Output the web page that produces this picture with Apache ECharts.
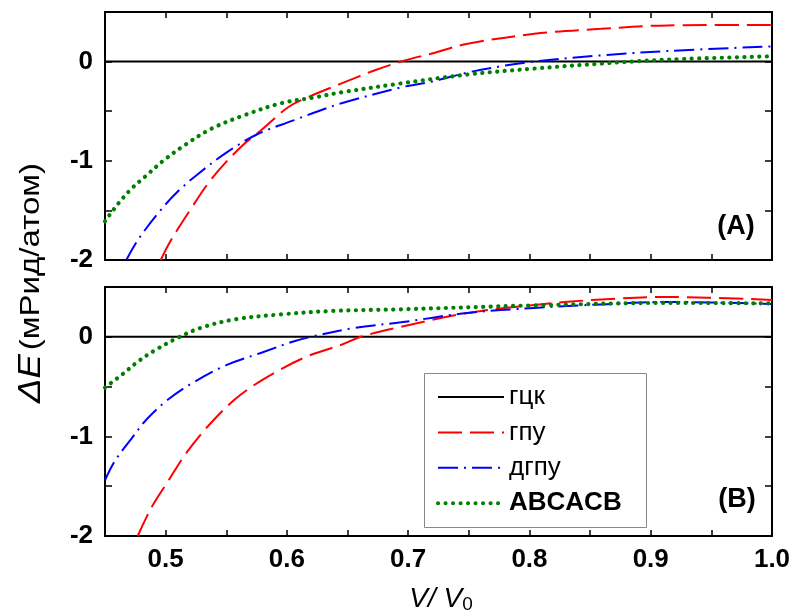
<!DOCTYPE html>
<html>
<head>
<meta charset="utf-8">
<script src="https://cdn.jsdelivr.net/npm/echarts@6/dist/echarts.min.js"></script>
<style>html,body{margin:0;padding:0;background:#fff}#c{width:795px;height:614px}</style>
</head>
<body>
<div id="c"></div>
<script>
// ---- data ----
var seriesNames = ['гцк', 'гпу', 'дгпу', 'ABCACB'];
var xTickLabels = ['0.5', '0.6', '0.7', '0.8', '0.9', '1.0'];
var yTickLabels = ['-2', '-1', '0'];

// panel (A)
var fccA_x = [0.45, 1.0];
var fccA_y = [0, 0];
var hcpA_x = [0.496, 0.503, 0.520, 0.538, 0.562, 0.579, 0.601, 0.617, 0.645, 0.672, 0.694, 0.722, 0.749, 0.804, 0.859, 0.914, 1.0];
var hcpA_y = [-2.0, -1.83, -1.50, -1.18, -0.86, -0.69, -0.46, -0.36, -0.22, -0.09, 0.0, 0.09, 0.18, 0.28, 0.33, 0.365, 0.37];
var dhcpA_x = [0.4676, 0.477, 0.495, 0.510, 0.527, 0.551, 0.576, 0.606, 0.628, 0.645, 0.694, 0.72, 0.749, 0.78, 0.804, 0.859, 0.914, 1.0];
var dhcpA_y = [-2.0, -1.80, -1.51, -1.31, -1.13, -0.91, -0.73, -0.59, -0.49, -0.42, -0.26, -0.20, -0.11, -0.04, 0.0, 0.063, 0.107, 0.154];
var abcA_x = [0.45, 0.461, 0.472, 0.483, 0.499, 0.516, 0.538, 0.565, 0.595, 0.623, 0.645, 0.694, 0.749, 0.804, 0.859, 0.914, 1.0];
var abcA_y = [-1.61, -1.43, -1.28, -1.16, -0.99, -0.84, -0.675, -0.54, -0.42, -0.36, -0.31, -0.22, -0.13, -0.07, -0.02, 0.02, 0.053];

// panel (B)
var fccB_x = [0.45, 1.0];
var fccB_y = [0, 0];
var hcpB_x = [0.477, 0.488, 0.502, 0.518, 0.540, 0.562, 0.590, 0.617, 0.645, 0.661, 0.694, 0.749, 0.804, 0.859, 0.914, 1.0];
var hcpB_y = [-2.0, -1.72, -1.45, -1.15, -0.83, -0.58, -0.36, -0.195, -0.08, 0.0, 0.10, 0.24, 0.32, 0.375, 0.40, 0.37];
var dhcpB_x = [0.45, 0.458, 0.472, 0.485, 0.502, 0.524, 0.551, 0.579, 0.606, 0.620, 0.656, 0.694, 0.749, 0.804, 0.859, 0.914, 1.0];
var dhcpB_y = [-1.44, -1.25, -1.02, -0.82, -0.63, -0.45, -0.28, -0.16, -0.044, 0.0, 0.09, 0.145, 0.24, 0.29, 0.325, 0.35, 0.33];
var abcB_x = [0.45, 0.465, 0.477, 0.492, 0.510, 0.529, 0.557, 0.595, 0.639, 0.692, 0.804, 0.914, 1.0];
var abcB_y = [-0.51, -0.37, -0.25, -0.13, -0.01, 0.09, 0.175, 0.225, 0.26, 0.275, 0.315, 0.34, 0.335];

// ---- build ----
function pairs(xs, ys) { return xs.map(function (x, i) { return [x, ys[i]]; }); }
var FONT = 'Liberation Sans';
var styles = [
  { color: '#000000', width: 2, type: 'solid', cap: 'butt' },
  { color: '#ff0000', width: 2, type: [24, 8], cap: 'butt' },
  { color: '#0000ff', width: 2, type: [20, 6, 2, 6], cap: 'butt' },
  { color: '#008000', width: 4.2, type: [0.1, 7.4], cap: 'round' }
];
var panels = [
  [pairs(fccA_x, fccA_y), pairs(hcpA_x, hcpA_y), pairs(dhcpA_x, dhcpA_y), pairs(abcA_x, abcA_y)],
  [pairs(fccB_x, fccB_y), pairs(hcpB_x, hcpB_y), pairs(dhcpB_x, dhcpB_y), pairs(abcB_x, abcB_y)]
];
var series = [];
panels.forEach(function (p, pi) {
  p.forEach(function (d, si) {
    var s = styles[si];
    series.push({
      type: 'line', name: seriesNames[si], data: d,
      xAxisIndex: pi * 2, yAxisIndex: pi * 2,
      showSymbol: false, symbol: 'circle', smooth: si === 0 ? false : 0.35,
      color: s.color,
      lineStyle: { color: s.color, width: s.width, type: s.type, cap: s.cap },
      z: si === 0 ? 1 : 2 + si,
      silent: true, animation: false
    });
  });
});

function xAxisFor(grid, pos, labels) {
  return {
    type: 'value', gridIndex: grid, position: pos, min: 0.45, max: 1.0, interval: 0.05,
    axisLine: { show: true, onZero: false, lineStyle: { color: '#000', width: 2 } },
    axisTick: { show: true, inside: true, length: 6, lineStyle: { color: '#000', width: 1.5 } },
    splitLine: { show: false },
    axisLabel: {
      show: labels, margin: 11, color: '#000', fontSize: 26, fontWeight: 'bold', fontFamily: FONT,
      formatter: function (v) {
        var k = Math.round(v * 100);
        if (k % 10 !== 0) return '';
        var t = (k / 100).toFixed(1);
        return xTickLabels.indexOf(t) >= 0 ? t : '';
      }
    }
  };
}
function yAxisFor(grid, pos, labels) {
  return {
    type: 'value', gridIndex: grid, position: pos, min: -2, max: 0.5, interval: 0.5,
    axisLine: { show: true, onZero: false, lineStyle: { color: '#000', width: 2 } },
    axisTick: { show: true, inside: true, length: 7, lineStyle: { color: '#000', width: 1.5 } },
    splitLine: { show: false },
    axisLabel: {
      show: labels, margin: 12, color: '#000', fontSize: 26, fontWeight: 'bold', fontFamily: FONT,
      formatter: function (v) {
        var t = String(Math.round(v * 10) / 10);
        return yTickLabels.indexOf(t) >= 0 ? t : '';
      }
    }
  };
}

var option = {
  animation: false,
  backgroundColor: '#ffffff',
  grid: [
    { left: 105, width: 667, top: 12, height: 248 },
    { left: 105, width: 667, top: 287, height: 249 }
  ],
  xAxis: [xAxisFor(0, 'bottom', false), xAxisFor(0, 'top', false), xAxisFor(1, 'bottom', true), xAxisFor(1, 'top', false)],
  yAxis: [yAxisFor(0, 'left', true), yAxisFor(0, 'right', false), yAxisFor(1, 'left', true), yAxisFor(1, 'right', false)],
  legend: {
    orient: 'vertical', left: 436, top: 384, padding: 0,
    itemWidth: 66, itemHeight: 14, itemGap: 9.4,
    selectedMode: false,
    itemStyle: { opacity: 0 },
    textStyle: { fontSize: 26, lineHeight: 26, color: '#000', fontFamily: FONT },
    data: [
      { name: seriesNames[0] },
      { name: seriesNames[1] },
      { name: seriesNames[2] },
      { name: seriesNames[3], textStyle: { fontWeight: 'bold' }, lineStyle: { width: 4 } }
    ]
  },
  graphic: [
    { type: 'rect', shape: { x: 424.5, y: 373.5, width: 222, height: 154 }, style: { fill: 'none', stroke: '#888', lineWidth: 1 }, silent: true },
    { type: 'text', x: 736, y: 227, style: { text: '(A)', font: 'bold 27px "Liberation Sans"', fill: '#000', align: 'center', verticalAlign: 'middle' } },
    { type: 'text', x: 737, y: 500, style: { text: '(B)', font: 'bold 27px "Liberation Sans"', fill: '#000', align: 'center', verticalAlign: 'middle' } },
    { type: 'text', x: 31, y: 283, rotation: Math.PI / 2, scaleX: 1.18,
      style: { text: '{i|ΔE} {r|(мРид/атом)}', align: 'center', verticalAlign: 'middle', fill: '#000',
        rich: { i: { fontSize: 31, fontStyle: 'italic', fontFamily: FONT, fill: '#000' }, r: { fontSize: 28, fontFamily: FONT, fill: '#000' } } } },
    { type: 'text', x: 441, y: 599,
      style: { text: '{i|V/ V}{s|0}', align: 'center', verticalAlign: 'middle', fill: '#000',
        rich: { i: { fontSize: 28, fontStyle: 'italic', fontFamily: FONT, fill: '#000' }, s: { fontSize: 19, fontFamily: FONT, fill: '#000', padding: [12, 0, 0, 0] } } } }
  ],
  series: series
};
var chart = echarts.init(document.getElementById('c'), null, { renderer: 'canvas' });
chart.setOption(option);
</script>
</body>
</html>
